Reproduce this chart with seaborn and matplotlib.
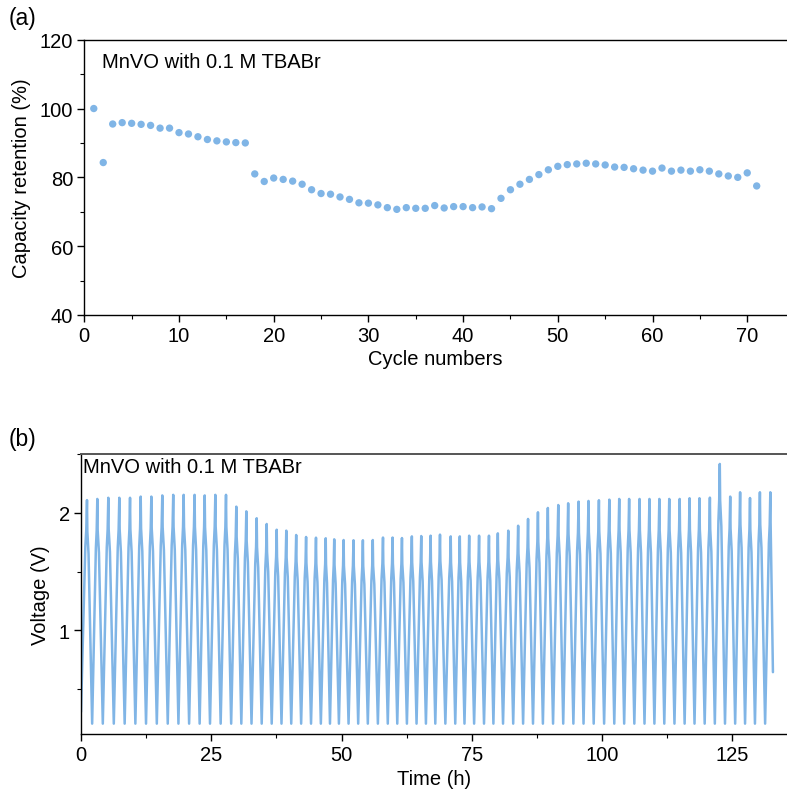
import numpy as np
import pandas as pd
import matplotlib
matplotlib.use("Agg")
import matplotlib.pyplot as plt
import seaborn as sns
from matplotlib.ticker import MultipleLocator

# ---------------- data: panel (a) ----------------
cycles = list(range(1, 72))
retention = [100.0, 84.3, 95.5, 95.9, 95.7, 95.4, 95.1, 94.3, 94.3, 93.0,
             92.6, 91.8, 91.0, 90.6, 90.3, 90.1, 90.0, 81.0, 78.8, 79.8,
             79.4, 78.9, 78.0, 76.4, 75.3, 75.1, 74.3, 73.6, 72.6, 72.5,
             72.0, 71.2, 70.7, 71.2, 71.0, 71.0, 71.8, 71.1, 71.5, 71.5,
             71.2, 71.4, 70.9, 73.9, 76.4, 78.0, 79.4, 80.8, 82.2, 83.2,
             83.7, 83.9, 84.1, 83.9, 83.6, 83.0, 82.9, 82.5, 82.1, 81.8,
             82.7, 81.8, 82.1, 81.8, 82.2, 81.8, 81.0, 80.4, 80.0, 81.3,
             77.5]

# ---------------- data: panel (b) ----------------
peak_time = [1.15, 3.13, 5.24, 7.35, 9.41, 11.46, 13.5, 15.6, 17.7, 19.7, 21.8,
             23.74, 25.78, 27.83, 29.81, 31.73, 33.72, 35.64, 37.56, 39.4, 41.3, 43.2, 45.1, 46.97,
             48.6, 50.4, 52.3, 54.1, 56.0, 57.96, 59.8, 61.6, 63.5, 65.3, 67.1, 68.9,
             70.96, 72.7, 74.5, 76.4, 78.3, 80.0, 82.0, 83.9, 85.8, 87.7, 89.6, 91.6, 93.5,
             95.5, 97.4, 99.4, 101.4, 103.3, 105.2, 107.2, 109.1, 111.0, 112.9, 114.9,
             116.8, 118.7, 120.7, 122.6, 124.6, 126.5, 128.4, 130.3, 132.3]
peak_volt = [2.11, 2.12, 2.13, 2.13, 2.13, 2.14, 2.14, 2.15, 2.155, 2.155, 2.155,
             2.15, 2.155, 2.155, 2.054, 2.014, 1.955, 1.906, 1.857, 1.849, 1.812, 1.795, 1.789, 1.784,
             1.775, 1.769, 1.767, 1.767, 1.769, 1.79, 1.79, 1.786, 1.80, 1.803, 1.806, 1.815,
             1.80, 1.80, 1.806, 1.806, 1.806, 1.826, 1.849, 1.891, 1.949, 2.006, 2.043, 2.068, 2.083,
             2.097, 2.103, 2.109, 2.114, 2.12, 2.12, 2.12, 2.12, 2.12, 2.12, 2.12,
             2.126, 2.126, 2.131, 2.419, 2.14, 2.177, 2.128, 2.177, 2.177]
trough_volt = 0.20
start_point = (0.0, 0.30)
end_point = (132.8, 0.64)

# shape of one charge / discharge branch (fraction of time, fraction of voltage span)
charge_tf = [0.0, 0.45, 0.72, 0.88, 1.0]
charge_vf = [0.0, 0.50, 0.78, 0.86, 1.0]
dis_tf = [0.0, 0.07, 0.3, 1.0]
dis_vf = [1.0, 0.86, 0.76, 0.0]

t_all, v_all = [start_point[0]], [start_point[1]]
n = len(peak_time)
for i in range(n):
    tp, vp = peak_time[i], peak_volt[i]
    if i == 0:
        t0, v0 = start_point
    else:
        t0 = 0.5 * (peak_time[i - 1] + tp)
        v0 = trough_volt
    for tf, vf in zip(charge_tf[1:], charge_vf[1:]):
        t_all.append(t0 + tf * (tp - t0))
        v_all.append(v0 + vf * (vp - v0))
    if i < n - 1:
        t1 = 0.5 * (tp + peak_time[i + 1])
        for tf, vf in zip(dis_tf[1:], dis_vf[1:]):
            t_all.append(tp + tf * (t1 - tp))
            v_all.append(trough_volt + vf * (vp - trough_volt))
    else:
        t_all.append(tp + 0.07 * (end_point[0] - tp))
        v_all.append(vp - 0.2)
        t_all.append(end_point[0])
        v_all.append(end_point[1])

df_v = pd.DataFrame({"t": t_all, "v": v_all})
df_a = pd.DataFrame({"cycle": cycles, "ret": retention})

# ---------------- style ----------------
sns.set_theme(style="ticks")
plt.rcParams["font.family"] = ["Liberation Sans", "DejaVu Sans"]
plt.rcParams.update({
    "text.color": "black",
    "axes.labelcolor": "black",
    "axes.linewidth": 1.0,
    "axes.edgecolor": "black",
    "xtick.major.size": 5, "ytick.major.size": 5,
    "xtick.minor.size": 3, "ytick.minor.size": 3,
    "xtick.major.width": 1.0, "ytick.major.width": 1.0,
    "xtick.minor.width": 0.8, "ytick.minor.width": 0.8,
    "xtick.color": "black", "ytick.color": "black",
    "xtick.labelcolor": "black", "ytick.labelcolor": "black",
    "xtick.labelsize": 14.5, "ytick.labelsize": 14.5,
    "axes.labelsize": 14.5,
})

blue = "#80B5E6"
fig = plt.figure(figsize=(7.87, 8.03), dpi=100)
W, H = 787, 803
ax1 = fig.add_axes([84.3 / W, (H - 316) / H, (W - 84.3) / W, (316 - 40.7) / H])
ax2 = fig.add_axes([81 / W, (H - 735.3) / H, (W - 81) / W, (735.3 - 455) / H])

# panel (a)
sns.scatterplot(data=df_a, x="cycle", y="ret", ax=ax1, color=blue, s=28,
                edgecolor="none", legend=False)
ax1.set_xlim(0, 74.2)
ax1.set_ylim(40, 120)
ax1.xaxis.set_major_locator(MultipleLocator(10))
ax1.xaxis.set_minor_locator(MultipleLocator(5))
ax1.yaxis.set_major_locator(MultipleLocator(20))
ax1.yaxis.set_minor_locator(MultipleLocator(10))
ax1.set_xlabel("Cycle numbers", labelpad=3)
ax1.set_ylabel("Capacity retention (%)", labelpad=6)
ax1.spines["right"].set_visible(False)
ax1.text(0.025, 0.955, "MnVO with 0.1 M TBABr", transform=ax1.transAxes,
         fontsize=14.5, va="top", ha="left")

# panel (b)
sns.lineplot(data=df_v, x="t", y="v", ax=ax2, color=blue, linewidth=1.8,
             estimator=None, sort=False)
ax2.set_xlim(0, 135.5)
ax2.set_ylim(0.109, 2.504)
ax2.xaxis.set_major_locator(MultipleLocator(25))
ax2.xaxis.set_minor_locator(MultipleLocator(12.5))
ax2.yaxis.set_major_locator(MultipleLocator(1))
ax2.yaxis.set_minor_locator(MultipleLocator(0.5))
ax2.set_xlabel("Time (h)", labelpad=3)
ax2.set_ylabel("Voltage (V)", labelpad=6)
ax2.spines["right"].set_visible(False)
ax2.spines["top"].set_color("#555555")
ax2.spines["top"].set_linewidth(1.4)
ax2.text(0.003, 0.99, "MnVO with 0.1 M TBABr", transform=ax2.transAxes,
         fontsize=14.5, va="top", ha="left")

for ax in (ax1, ax2):
    ax.tick_params(which="both", direction="out", pad=3)

fig.text(9 / W, 1 - 18 / H, "(a)", fontsize=16.5, va="center", ha="left")
fig.text(9 / W, 1 - 440 / H, "(b)", fontsize=16.5, va="center", ha="left")

fig.savefig("out.png", dpi=100)
